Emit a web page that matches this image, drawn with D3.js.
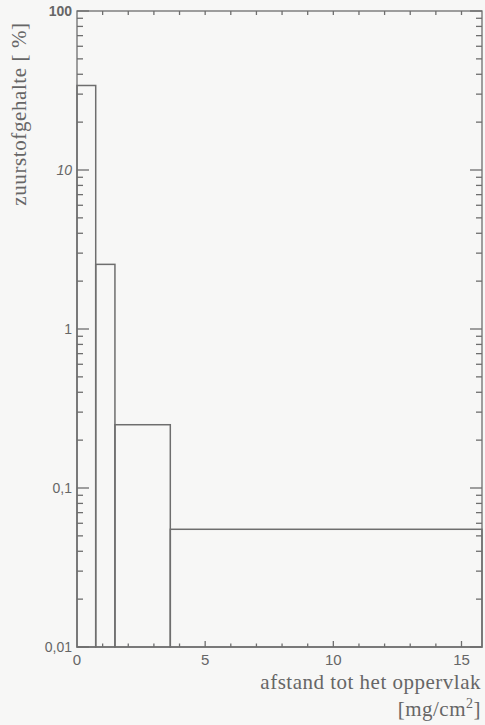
<!DOCTYPE html>
<html>
<head>
<meta charset="utf-8">
<script src="https://cdn.jsdelivr.net/npm/d3@7"></script>
<style>
  html, body { margin: 0; padding: 0; background: #f7f7f6; }
  svg { display: block; }
</style>
</head>
<body>
<script>
// Oxygen content per layer as a function of depth below the surface
const layerEdges = [0, 0.73, 1.48, 3.64, 15.8];   // mg/cm², layer boundaries
const oxygenPct = [34, 2.55, 0.25, 0.055];        // % per layer
const xTickValues = [0, 5, 10, 15];
const yTickValues = [100, 10, 1, 0.1, 0.01];
const yTickLabels = ["100", "10", "1", "0,1", "0,01"];

const W = 485, H = 725;
const plotL = 77, plotR = 482, plotT = 11, plotB = 647;
const ink = "#6e6e6e", textInk = "#666666";

const svg = d3.select("body").append("svg").attr("width", W).attr("height", H);

const x = d3.scaleLinear().domain([0, layerEdges[layerEdges.length - 1]]).range([plotL, plotR]);
const y = d3.scaleLog().domain([0.01, 100]).range([plotB, plotT]);

// minor tick positions
const xMinor = d3.range(1, 16).filter(v => v % 5 !== 0);
const xMajor = [5, 10, 15];
const yMinor = [];
[0.01, 0.1, 1, 10].forEach(d => { for (let k = 2; k <= 9; k++) yMinor.push(d * k); });

const g = svg.append("g");

// ticks on all four sides, pointing into the plot
const yTicks = yTickValues.map(v => ({ v: v, len: 12 })).concat(yMinor.map(v => ({ v: v, len: 6 })));
const xTicks = xMajor.map(v => ({ v: v, len: 6 })).concat(xMinor.map(v => ({ v: v, len: 3.5 })));

function tickPath(d, side) {
  if (side === "l") return `M${plotL},${y(d.v)}H${plotL + d.len}`;
  if (side === "r") return `M${plotR},${y(d.v)}H${plotR - d.len}`;
  if (side === "b") return `M${x(d.v)},${plotB}V${plotB - d.len}`;
  return `M${x(d.v)},${plotT}V${plotT + 4}`;
}

[["l", yTicks], ["r", yTicks], ["b", xTicks], ["t", xTicks]].forEach(([side, ticks]) => {
  g.append("g").selectAll("path").data(ticks).join("path")
    .attr("d", d => tickPath(d, side))
    .attr("fill", "none")
    .attr("stroke", ink)
    .attr("stroke-width", 1.3);
});

// frame
g.append("rect")
  .attr("x", plotL).attr("y", plotT)
  .attr("width", plotR - plotL).attr("height", plotB - plotT)
  .attr("fill", "none").attr("stroke", ink).attr("stroke-width", 1.3);

// layer bars
g.selectAll("rect.bar").data(oxygenPct).join("rect")
  .attr("class", "bar")
  .attr("x", (d, i) => x(layerEdges[i]))
  .attr("width", (d, i) => x(layerEdges[i + 1]) - x(layerEdges[i]))
  .attr("y", d => y(d))
  .attr("height", d => y(0.01) - y(d))
  .attr("fill", "none").attr("stroke", ink).attr("stroke-width", 1.5);

// y tick labels
g.selectAll("text.ylab").data(yTickValues).join("text")
  .attr("class", "ylab")
  .attr("x", plotL - 5).attr("y", d => y(d) + 5)
  .attr("text-anchor", "end")
  .attr("font-family", "Liberation Sans, Arial, sans-serif")
  .attr("font-size", 14)
  .attr("font-weight", (d, i) => i === 0 ? "bold" : "normal")
  .attr("font-style", (d, i) => i === 1 ? "italic" : "normal")
  .attr("fill", textInk)
  .text((d, i) => yTickLabels[i]);

// x tick labels
g.selectAll("text.xlab").data(xTickValues).join("text")
  .attr("class", "xlab")
  .attr("x", d => x(d)).attr("y", plotB + 18)
  .attr("text-anchor", "middle")
  .attr("font-family", "Liberation Sans, Arial, sans-serif")
  .attr("font-size", 15)
  .attr("fill", textInk)
  .text(d => d);

// axis titles
svg.append("text")
  .attr("transform", "translate(26,114) rotate(-90)")
  .attr("text-anchor", "middle")
  .attr("font-family", "Liberation Serif, Times New Roman, serif")
  .attr("font-size", 21)
  .attr("letter-spacing", 0.6)
  .attr("fill", textInk)
  .text("zuurstofgehalte [ %]");

svg.append("text")
  .attr("x", 481).attr("y", 689)
  .attr("text-anchor", "end")
  .attr("font-family", "Liberation Serif, Times New Roman, serif")
  .attr("font-size", 21)
  .attr("letter-spacing", 0.5)
  .attr("fill", textInk)
  .text("afstand tot het oppervlak");

const unit = svg.append("text")
  .attr("x", 481).attr("y", 716)
  .attr("text-anchor", "end")
  .attr("font-family", "Liberation Serif, Times New Roman, serif")
  .attr("font-size", 21)
  .attr("letter-spacing", 0.5)
  .attr("fill", textInk);
unit.append("tspan").text("[mg/cm");
unit.append("tspan").attr("dy", -8).attr("font-size", 14).text("2");
unit.append("tspan").attr("dy", 8).text("]");
</script>
</body>
</html>
